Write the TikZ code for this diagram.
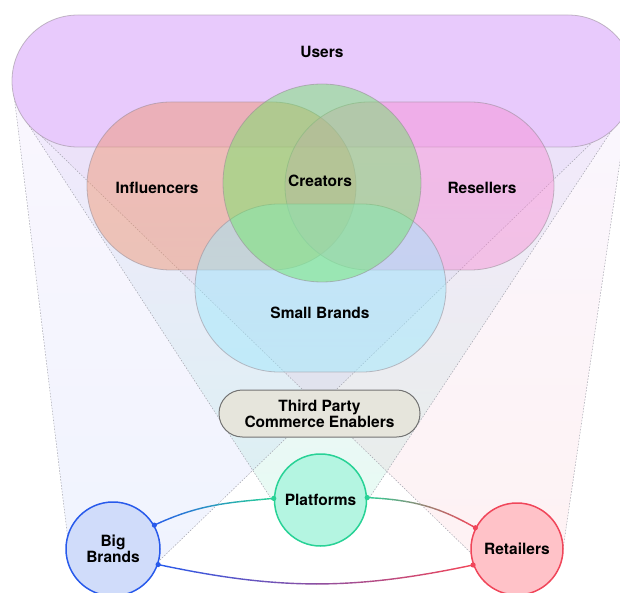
\documentclass[tikz,border=0pt]{standalone}
\usepackage{fontspec}
\setmainfont{TeX Gyre Heros}
\begin{document}
\begin{tikzpicture}[x=1pt, y=1pt, line width=0.8pt,
    venn/.style={rectangle, draw=venngray, draw opacity=0.55, fill opacity=0.45, inner sep=0pt},
    actor/.style={circle, draw, line width=1.5pt, inner sep=0pt, minimum size=#1},
    lbl/.style={font=\bfseries\fontsize{15.5}{16}\selectfont, align=center, text=black},
    cone/.style={draw=conegray, dash pattern=on 1.5pt off 1.5pt, line width=0.5pt},
    link/.style={line width=1.4pt}]
    % Define colors
    \definecolor{userscolor}{RGB}{232, 202, 252}
    \definecolor{inflcolor}{RGB}{240, 145, 105}
    \definecolor{reselcolor}{RGB}{248, 140, 212}
    \definecolor{creacolor}{RGB}{105, 232, 95}
    \definecolor{smallcolor}{RGB}{160, 232, 252}
    \definecolor{tpcecolor}{RGB}{230, 229, 220}
    \definecolor{tpcegray}{RGB}{115, 115, 115}
    \definecolor{venngray}{RGB}{150, 140, 150}
    \definecolor{conegray}{RGB}{165, 165, 175}
    \definecolor{conetop}{RGB}{180, 130, 240}
    \definecolor{bbblue}{RGB}{40, 90, 235}
    \definecolor{bbfill}{RGB}{208, 220, 250}
    \definecolor{platgreen}{RGB}{40, 210, 150}
    \definecolor{platfill}{RGB}{180, 245, 225}
    \definecolor{retred}{RGB}{240, 70, 90}
    \definecolor{retfill}{RGB}{255, 194, 200}

    \useasboundingbox (0,0) rectangle (620,592);
    \clip (0,0) rectangle (620,592);

    % cones behind everything
    \shade[top color=conetop, bottom color=bbblue, fill opacity=0.07]
        (14,497) -- (68,52) -- (160,32) -- (607,464) -- cycle;
    \shade[top color=conetop, bottom color=platgreen, fill opacity=0.11]
        (26,471) -- (272,92) -- (368,92) -- (612,462) -- cycle;
    \shade[top color=conetop, bottom color=retred, fill opacity=0.07]
        (36,461) -- (473,37) -- (563,43) -- (629,492) -- cycle;
    \draw[cone] (14,497) -- (68,52);
    \draw[cone] (160,32) -- (607,464);
    \draw[cone] (26,471) -- (272,92);
    \draw[cone] (368,92) -- (612,462);
    \draw[cone] (36,461) -- (473,37);
    \draw[cone] (563,43) -- (629,492);

    % venn shapes
    \node[venn, fill=userscolor, fill opacity=1, rounded corners=65.9pt,
          minimum width=622pt, minimum height=132pt] (users) at (323,511) {};
    \node[venn, fill=inflcolor, rounded corners=83.9pt,
          minimum width=269pt, minimum height=168pt] (infl) at (221.5,406) {};
    \node[venn, fill=reselcolor, rounded corners=83.9pt,
          minimum width=269pt, minimum height=168pt] (resel) at (419.5,406) {};
    \node[venn, fill=smallcolor, fill opacity=0.5, rounded corners=83.9pt,
          minimum width=251pt, minimum height=168pt] (small) at (320.5,304) {};
    \node[venn, circle, fill=creacolor, minimum size=198pt] (crea) at (322,409) {};

    \node[lbl] (users-lbl) at (322,540) {Users};
    \node[lbl] (infl-lbl) at (157,404) {Influencers};
    \node[lbl] (crea-lbl) at (320,411) {Creators};
    \node[lbl] (resel-lbl) at (482,404) {Resellers};
    \node[lbl] (small-lbl) at (320,279) {Small Brands};

    \node[lbl, rectangle, draw=tpcegray, fill=tpcecolor, line width=1pt, rounded corners=23.4pt,
          minimum width=201pt, minimum height=47pt, inner sep=0pt] (tpce) at (319.5,178.5)
          {Third Party\\Commerce Enablers};

    % actors
    \node[actor=92pt, lbl, draw=platgreen, fill=platfill] (plat) at (320.5,92) {Platforms};
    \node[actor=94pt, lbl, draw=bbblue, fill=bbfill] (bigb) at (113,43) {Big\\Brands};
    \node[actor=92pt, lbl, draw=retred, fill=retfill] (retl) at (517,43) {Retailers};

    % connectors, coloured strip by strip
    \foreach \i in {0,...,23} {
        \pgfmathtruncatemacro\pct{100-\i*100/23}
        \begin{scope}
            \clip (150+\i*5.25,0) rectangle ++(5.6,200);
            \draw[link, draw=bbblue!\pct!platgreen] (bigb.30) to[out=25, in=185] (plat.178);
        \end{scope}
        \begin{scope}
            \clip (364+\i*4.7,0) rectangle ++(5,200);
            \draw[link, draw=platgreen!\pct!retred] (plat.3) to[out=-3, in=150] (retl.153);
        \end{scope}
        \begin{scope}
            \clip (154+\i*13.5,0) rectangle ++(13.8,200);
            \draw[link, draw=bbblue!\pct!retred] (bigb.-19) to[out=-12, in=192] (retl.200);
        \end{scope}
    }
    \fill[bbblue] (bigb.30) circle (2.6);
    \fill[bbblue] (bigb.-19) circle (2.6);
    \fill[platgreen] (plat.178) circle (2.6);
    \fill[platgreen] (plat.3) circle (2.6);
    \fill[retred] (retl.153) circle (2.6);
    \fill[retred] (retl.200) circle (2.6);
\end{tikzpicture}
\end{document}
